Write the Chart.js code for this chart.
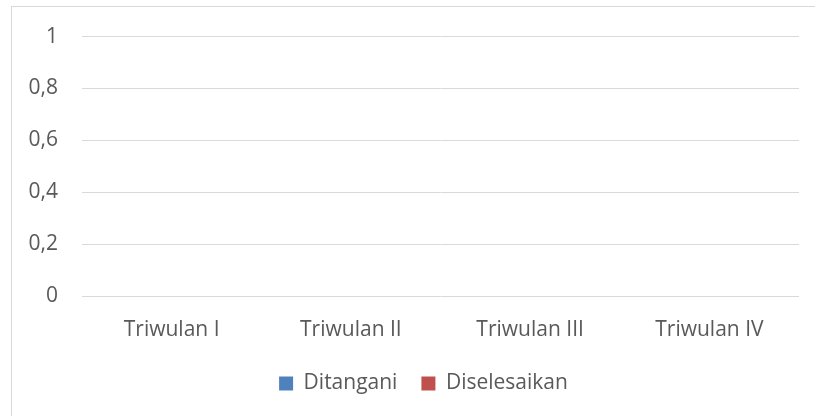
<!DOCTYPE html>
<html lang="id">
<head>
  <meta charset="UTF-8" />
  <title>Triwulan</title>
  <script src="https://cdn.jsdelivr.net/npm/chart.js"></script>
  <style>
    body { margin: 0; background: #fff; overflow: hidden; }
    .frame { position: absolute; left: 11px; top: 6px; width: 820px; height: 420px; border: 1px solid #d9d9d9; }
    .wrap { position: absolute; left: 0; top: 0; width: 815px; height: 416px; }
  </style>
</head>
<body>
  <div class="frame"></div>
  <div class="wrap"><canvas id="chart"></canvas></div>
  <script>
    const categories = ["Triwulan I", "Triwulan II", "Triwulan III", "Triwulan IV"];
    const ditangani = [0, 0, 0, 0];
    const diselesaikan = [0, 0, 0, 0];
    const yTickLabels = ["0", "0,2", "0,4", "0,6", "0,8", "1"];

    const FONT = "'Open Sans', sans-serif";
    const TEXT = "#595959";
    const GRID = "#d9d9d9";

    // the original legend sits a bit right of the canvas centre
    const legendShift = {
      id: "legendShift",
      afterLayout(chart) {
        chart.legend.left += 24;
        chart.legend.right += 24;
      }
    };

    new Chart(document.getElementById("chart"), {
      type: "bar",
      data: {
        labels: categories,
        datasets: [
          { label: "Ditangani", data: ditangani, backgroundColor: "#4f81bd" },
          { label: "Diselesaikan", data: diselesaikan, backgroundColor: "#c0504d" }
        ]
      },
      plugins: [legendShift],
      options: {
        responsive: true,
        maintainAspectRatio: false,
        animation: false,
        layout: { padding: { top: 35, right: 16, bottom: 12, left: 0 } },
        plugins: {
          tooltip: { enabled: false },
          legend: {
            position: "bottom",
            labels: {
              font: { family: FONT, size: 21 },
              color: TEXT,
              boxWidth: 14,
              boxHeight: 14,
              padding: 24
            }
          }
        },
        scales: {
          x: {
            grid: { display: false },
            border: { display: false },
            ticks: { font: { family: FONT, size: 21 }, color: TEXT, padding: 13, maxRotation: 0 },
            afterFit: s => { s.height = 53; }
          },
          y: {
            min: 0,
            max: 1,
            grid: { color: GRID, lineWidth: 1, drawTicks: false },
            border: { display: false },
            ticks: {
              stepSize: 0.2,
              font: { family: FONT, size: 21 },
              color: TEXT,
              padding: 24,
              callback: (v, i) => yTickLabels[i]
            },
            afterFit: s => { s.width = 82; }
          }
        }
      }
    });
  </script>
</body>
</html>
